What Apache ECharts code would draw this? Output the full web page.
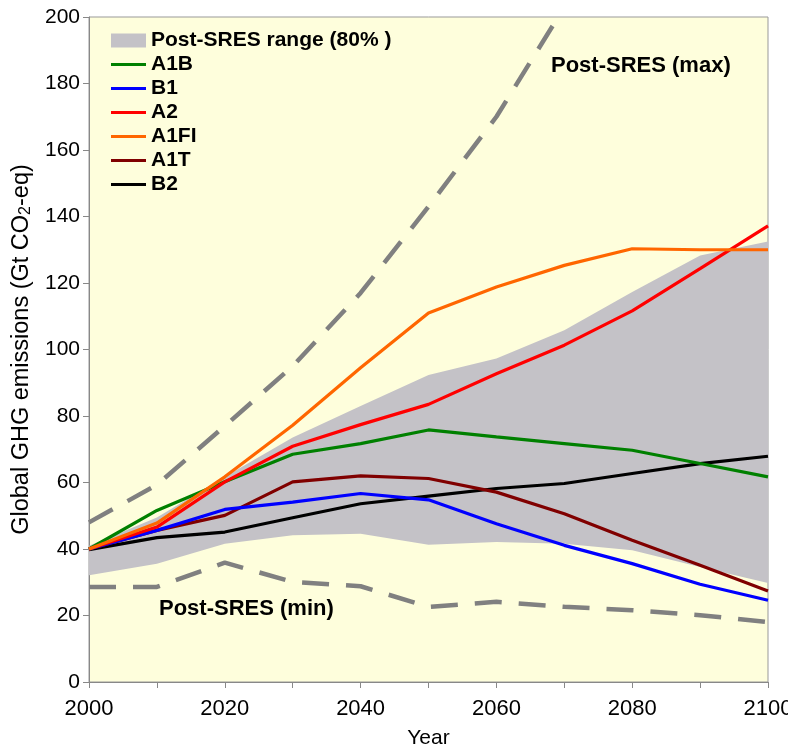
<!DOCTYPE html>
<html>
<head>
<meta charset="utf-8">
<script src="https://cdn.jsdelivr.net/npm/echarts@6.0.0/dist/echarts.min.js"></script>
<style>
  html, body { margin: 0; padding: 0; background: #fff; }
  #chart { width: 788px; height: 747px; }
</style>
</head>
<body>
<div id="chart"></div>
<script>
// years on the x axis
const years = ['2000', '2010', '2020', '2030', '2040', '2050', '2060', '2070', '2080', '2090', '2100'];

// SRES scenarios (Gt CO2-eq)
const a1b  = [40, 51.6, 60.2, 68.5, 71.7, 75.8, 73.7, 71.7, 69.7, 65.7, 61.7];
const b1   = [40, 45.6, 51.9, 54.1, 56.7, 54.8, 47.6, 41.1, 35.6, 29.4, 24.6];
const a2   = [40, 46.6, 60.2, 70.9, 77.4, 83.5, 92.7, 101.3, 111.6, 124.3, 137.2];
const a1fi = [40, 47.8, 61.7, 77.2, 94.5, 111, 118.8, 125.3, 130.3, 130, 130];
const a1t  = [40, 45.6, 50.1, 60.2, 62, 61.2, 57.1, 50.6, 42.6, 35.1, 27.4];
const b2   = [39.8, 43.4, 45.1, 49.4, 53.6, 55.9, 58.2, 59.7, 62.7, 65.7, 67.9];

// post-SRES 80% range
const rangeLow  = [32.1, 35.6, 41.6, 44.1, 44.6, 41.3, 42.1, 41.6, 39.6, 34.6, 29.8];
const rangeHigh = [41, 49.5, 61.7, 73.5, 83, 92.3, 97.3, 105.8, 117.3, 128.3, 132.5];

// post-SRES min / max (max runs off the top after 2070)
const postMin = [28.6, 28.6, 35.9, 30.1, 28.8, 22.6, 24.1, 22.6, 21.6, 20.1, 18];
const postMax = [48, 59.3, 77, 95, 117, 143, 170, 203];

const yMin = 0, yMax = 200, yStep = 20;

const chart = echarts.init(document.getElementById('chart'));

const font = 'Liberation Sans, Arial, sans-serif';
// flat line icon for the legend, padded to the 35x14 item box
const lineIcon = 'path://M0,0 L0.05,0 L0,0.05 Z M0,5.5 L35,5.5 L35,8.5 L0,8.5 Z M35,14 L34.95,14 L35,13.95 Z';

function scen(name, color, vals) {
    return {
        type: 'line',
        name: name,
        data: vals,
        symbol: 'none',
        color: color,
        lineStyle: { color: color, width: 3.2 },
        z: 5
    };
}

const option = {
    animation: false,
    textStyle: { fontFamily: font },
    grid: {
        left: 89, right: 20, top: 17, bottom: 65,
        outerBoundsMode: 'none',
        containLabel: false,
        show: true,
        backgroundColor: '#fefedc',
        borderColor: '#999',
        borderWidth: 1
    },
    legend: {
        orient: 'vertical',
        left: 111,
        top: 30,
        padding: 0,
        itemWidth: 35,
        itemHeight: 14,
        itemGap: 3,
        itemStyle: { borderWidth: 0 },
        textStyle: { fontFamily: font, fontSize: 21, fontWeight: 'bold', color: '#000', lineHeight: 21 },
        data: [
            { name: 'Post-SRES range (80% )', icon: 'rect' },
            { name: 'A1B', icon: lineIcon },
            { name: 'B1', icon: lineIcon },
            { name: 'A2', icon: lineIcon },
            { name: 'A1FI', icon: lineIcon },
            { name: 'A1T', icon: lineIcon },
            { name: 'B2', icon: lineIcon }
        ]
    },
    xAxis: {
        type: 'category',
        data: years,
        boundaryGap: false,
        name: 'Year',
        nameLocation: 'middle',
        nameGap: 46,
        nameTextStyle: { fontSize: 21, color: '#000', fontFamily: font },
        axisLine: { lineStyle: { color: '#888' } },
        axisTick: { interval: 0, length: 6, lineStyle: { color: '#888' } },
        axisLabel: { interval: 1, fontSize: 22, color: '#000', margin: 16 },
        splitLine: { show: false }
    },
    yAxis: {
        type: 'value',
        min: yMin,
        max: yMax,
        interval: yStep,
        name: '{a|Global GHG emissions (Gt CO}{s|2}{a|-eq)}',
        nameLocation: 'middle',
        nameGap: 51,
        nameTextStyle: {
            color: '#000',
            rich: {
                a: { fontSize: 23.5, fontFamily: font, color: '#000' },
                s: { fontSize: 16, fontFamily: font, color: '#000', padding: [10, 0, 0, 0] }
            }
        },
        axisLine: { show: true, lineStyle: { color: '#888' } },
        axisTick: { show: true, length: 6, lineStyle: { color: '#888' } },
        axisLabel: { fontSize: 21, color: '#000', margin: 9, padding: [5, 0, 0, 0] },
        splitLine: { show: false }
    },
    graphic: [
        {
            type: 'text', left: 551, top: 55, z: 10,
            style: { text: 'Post-SRES (max)', fontFamily: font, fontSize: 22, fontWeight: 'bold', fill: '#000' }
        },
        {
            type: 'text', left: 159, top: 598, z: 10,
            style: { text: 'Post-SRES (min)', fontFamily: font, fontSize: 22, fontWeight: 'bold', fill: '#000' }
        }
    ],
    series: [
        {
            type: 'line',
            name: 'low',
            stack: 'range',
            data: rangeLow,
            symbol: 'none',
            lineStyle: { opacity: 0 },
            silent: true,
            z: 1
        },
        {
            type: 'line',
            name: 'Post-SRES range (80% )',
            stack: 'range',
            data: rangeHigh.map((v, i) => v - rangeLow[i]),
            symbol: 'none',
            color: '#c4c2c7',
            itemStyle: { color: '#c4c2c7' },
            lineStyle: { opacity: 0 },
            areaStyle: { color: '#c4c2c7', opacity: 1 },
            z: 1
        },
        {
            type: 'line',
            name: 'max',
            data: postMax,
            symbol: 'none',
            lineStyle: { color: '#808080', width: 4.5, type: [27, 17] },
            z: 3
        },
        {
            type: 'line',
            name: 'min',
            data: postMin,
            symbol: 'none',
            lineStyle: { color: '#808080', width: 4.5, type: [27, 17] },
            z: 3
        },
        scen('B2', '#000000', b2),
        scen('A1T', '#800000', a1t),
        scen('B1', '#0000ff', b1),
        scen('A1B', '#008000', a1b),
        scen('A2', '#ff0000', a2),
        scen('A1FI', '#ff6600', a1fi)
    ]
};

chart.setOption(option);
</script>
</body>
</html>
